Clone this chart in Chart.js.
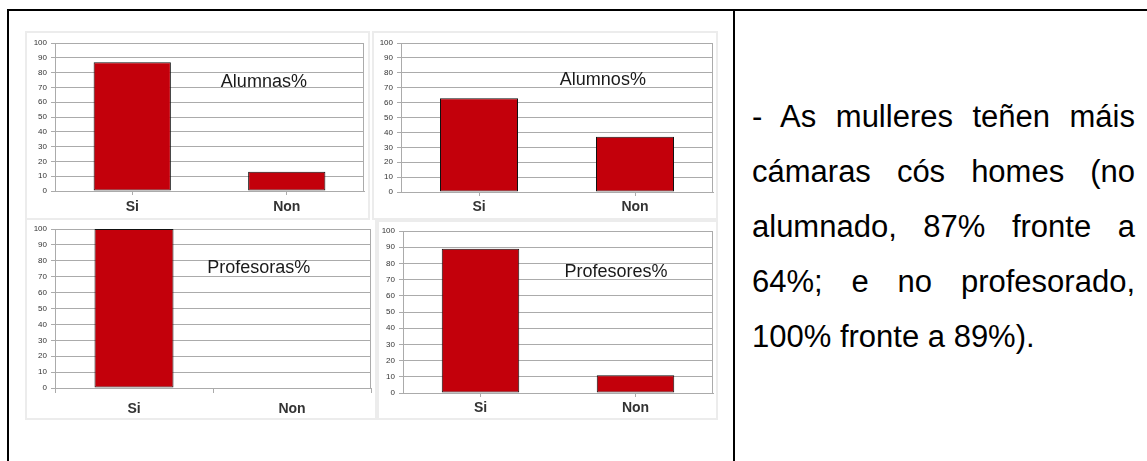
<!DOCTYPE html>
<html>
<head>
<meta charset="utf-8">
<script src="https://cdn.jsdelivr.net/npm/chart.js@4.4.1/dist/chart.umd.min.js"></script>
<style>
  html, body { margin: 0; padding: 0; background: #fff; }
  body { width: 1147px; height: 461px; position: relative; overflow: hidden; font-family: "Liberation Sans", Arial, sans-serif; }
  .tabla { position: absolute; left: 7px; top: 9px; width: 1140px; height: 460px; border-top: 2px solid #000; border-left: 2px solid #000; }
  .separador { position: absolute; left: 733px; top: 9px; width: 2px; height: 452px; background: #000; }
  .panel { position: absolute; box-sizing: border-box; border: 2px solid #ececec; }
  .grafico { position: absolute; }
  .texto { position: absolute; left: 752px; top: 89px; width: 383px; font-size: 31px; line-height: 55px; color: #000; }
  .texto div { text-align: justify; text-align-last: justify; white-space: nowrap; }
  .texto div.ultima { text-align: left; text-align-last: left; }
</style>
</head>
<body>
<div class="tabla"></div>
<div class="separador"></div>

<div class="panel" style="left:25px;top:31px;width:345px;height:189px"></div>
<div class="panel" style="left:372px;top:31px;width:346px;height:189px"></div>
<div class="panel" style="left:25px;top:220px;width:352px;height:200px;border-top:none"></div>
<div class="panel" style="left:377px;top:220px;width:341px;height:200px"></div>

<div class="grafico" style="left:25px;top:31px;width:345px;height:189px"><canvas id="chartAlumnas"></canvas></div>
<div class="grafico" style="left:372px;top:31px;width:346px;height:189px"><canvas id="chartAlumnos"></canvas></div>
<div class="grafico" style="left:25px;top:220px;width:352px;height:200px"><canvas id="chartProfesoras"></canvas></div>
<div class="grafico" style="left:377px;top:220px;width:341px;height:200px"><canvas id="chartProfesores"></canvas></div>

<div class="texto">
  <div>- As mulleres teñen máis</div>
  <div>cámaras cós homes (no</div>
  <div>alumnado, 87% fronte a</div>
  <div>64%; e no profesorado,</div>
  <div class="ultima">100% fronte a 89%).</div>
</div>

<script>
const categorias = ['Si', 'Non'];
const alumnas = [87, 13];
const alumnos = [63, 37];
const profesoras = [100, 0];
const profesores = [89, 11];
const yMin = 0;
const yMax = 100;
const yPaso = 10;

const corBarra = '#c3000b';
const corGrella = '#ababab';

// marco do area de debuxo e titulo dentro do grafico
const marcoPlugin = {
  id: 'marco',
  beforeDatasetsDraw(chart, args, opts) {
    const a = chart.chartArea;
    const ctx = chart.ctx;
    ctx.save();
    ctx.strokeStyle = corGrella;
    ctx.lineWidth = 1;
    ctx.beginPath();
    ctx.moveTo(Math.round(a.right) - 0.5, a.top);
    ctx.lineTo(Math.round(a.right) - 0.5, a.bottom);
    ctx.stroke();
    ctx.restore();
  },
  afterDatasetsDraw(chart, args, opts) {
    const a = chart.chartArea;
    const ctx = chart.ctx;
    ctx.save();
    ctx.font = '18px "Liberation Sans", Arial, sans-serif';
    ctx.fillStyle = '#1a1a1a';
    ctx.textAlign = 'center';
    ctx.textBaseline = 'middle';
    ctx.fillText(opts.texto, a.left + opts.rx * a.width, a.top + opts.ry * a.height);
    ctx.restore();
  }
};

function grafico(id, valores, titulo, c) {
  new Chart(document.getElementById(id), {
    type: 'bar',
    data: {
      labels: categorias,
      datasets: [{
        label: titulo,
        data: valores,
        backgroundColor: corBarra,
        borderColor: '#111',
        borderWidth: 1,
        borderSkipped: false,
        barPercentage: 1,
        categoryPercentage: 0.5
      }]
    },
    options: {
      responsive: true,
      maintainAspectRatio: false,
      animation: false,
      devicePixelRatio: 1,
      layout: { padding: { left: 0, top: c.top, right: c.right, bottom: 0 } },
      scales: {
        y: {
          min: yMin,
          max: yMax,
          ticks: {
            stepSize: yPaso,
            padding: 4,
            color: '#333',
            font: { family: '"Liberation Sans", Arial, sans-serif', size: 8 }
          },
          grid: { color: corGrella, lineWidth: 1, tickLength: 4 },
          border: { color: corGrella },
          afterFit: function (scale) { scale.width = c.yAncho; }
        },
        x: {
          ticks: {
            padding: c.xPad,
            color: '#333',
            font: { family: '"Liberation Sans", Arial, sans-serif', size: 14, weight: 'bold' }
          },
          grid: { drawOnChartArea: false, drawTicks: true, tickLength: c.xTick, offset: c.xOffset, color: corGrella },
          border: { color: corGrella },
          afterFit: function (scale) { scale.height = c.xAlto; }
        }
      },
      plugins: {
        legend: { display: false },
        tooltip: { enabled: false },
        marco: { texto: titulo, rx: c.rx, ry: c.ry }
      }
    },
    plugins: [marcoPlugin]
  });
}

grafico('chartAlumnas', alumnas, 'Alumnas%', { top: 12, right: 6, yAncho: 30, xAlto: 29, xPad: 4, xTick: 4, xOffset: false, rx: 0.676, ry: 0.264 });
grafico('chartAlumnos', alumnos, 'Alumnos%', { top: 12, right: 5, yAncho: 29, xAlto: 28, xPad: 3, xTick: 4, xOffset: false, rx: 0.647, ry: 0.248 });
grafico('chartProfesoras', profesoras, 'Profesoras%', { top: 9, right: 6, yAncho: 30, xAlto: 32, xPad: 8, xTick: 5, xOffset: true, rx: 0.645, ry: 0.245 });
grafico('chartProfesores', profesores, 'Profesores%', { top: 11, right: 5, yAncho: 26, xAlto: 27, xPad: 3, xTick: 4, xOffset: false, rx: 0.687, ry: 0.253 });
</script>
</body>
</html>
